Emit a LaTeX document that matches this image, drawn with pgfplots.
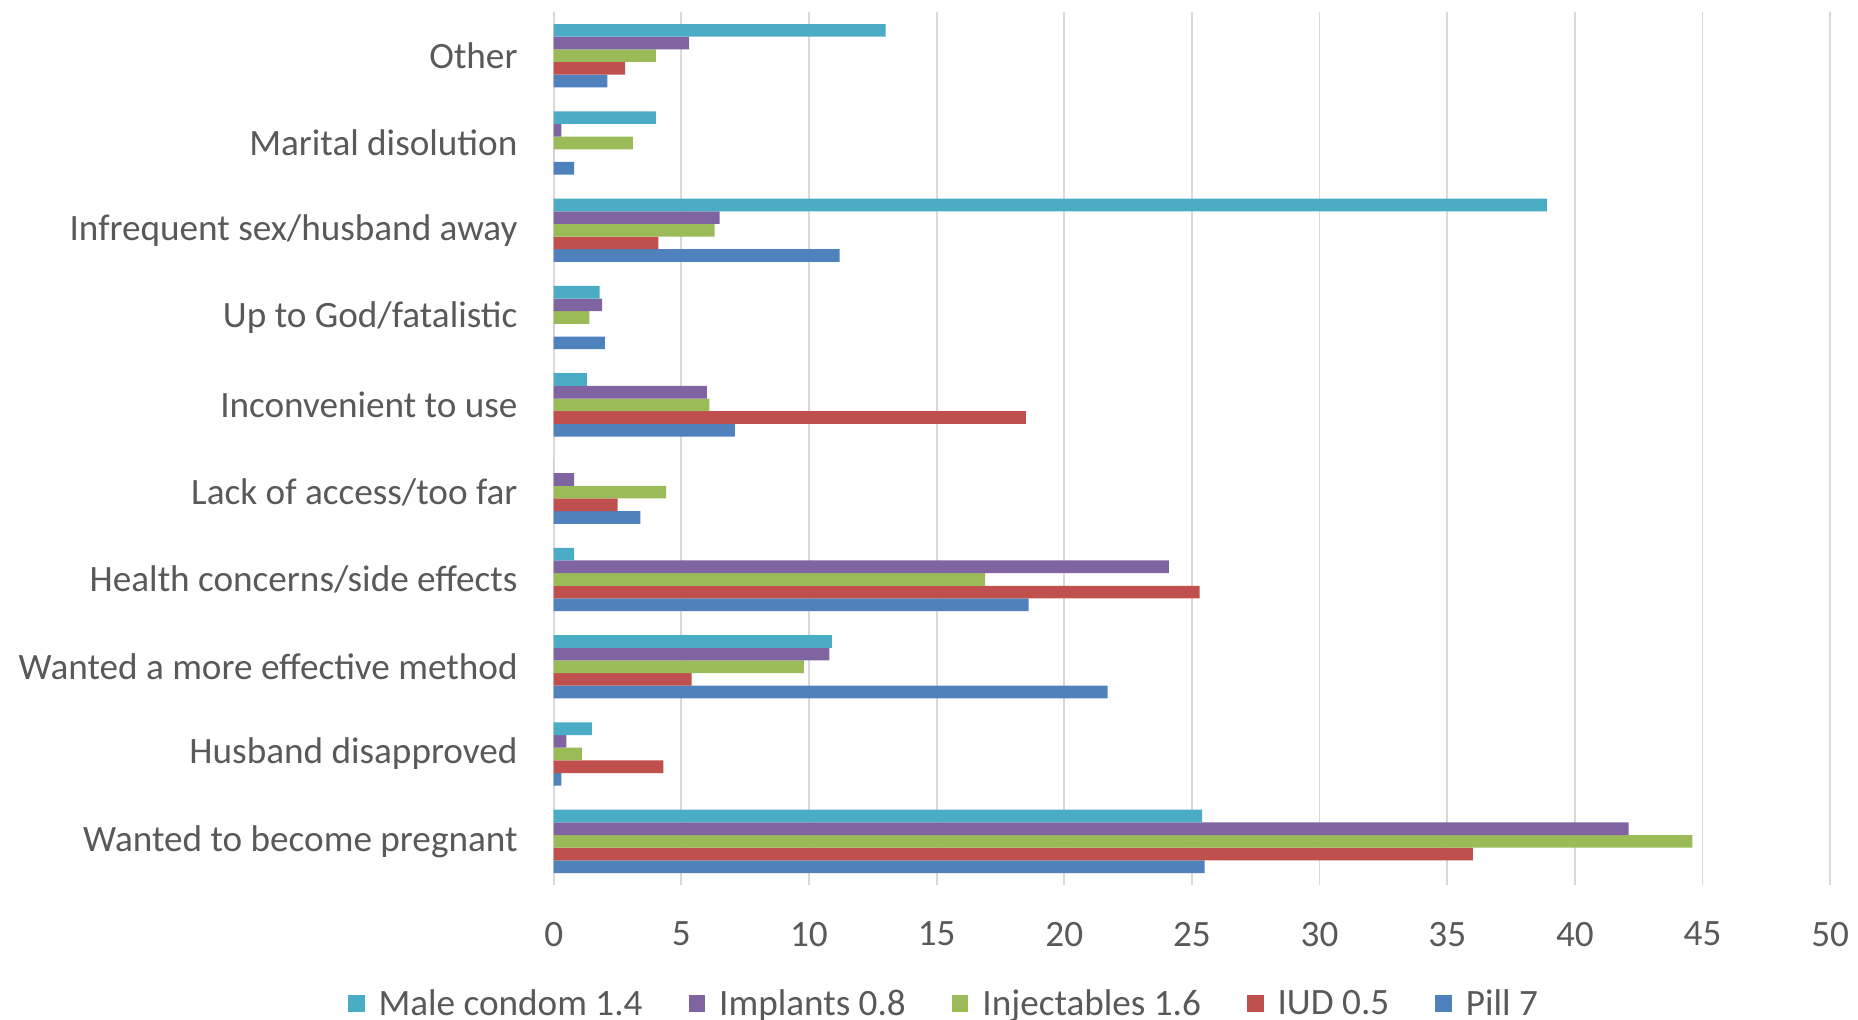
\documentclass[border=0pt]{standalone}
\usepackage{fontspec}
\setmainfont{Carlito}
\usepackage{pgfplots}
\pgfplotsset{compat=1.18}
\definecolor{cMC}{HTML}{4BACC6}
\definecolor{cImp}{HTML}{8064A2}
\definecolor{cInj}{HTML}{9BBB59}
\definecolor{cIUD}{HTML}{C0504D}
\definecolor{cPill}{HTML}{4F81BD}
\definecolor{gridc}{HTML}{D9D9D9}
\definecolor{textc}{HTML}{595959}
\begin{document}
\begin{tikzpicture}
\begin{axis}[
  at={(0pt,0pt)}, anchor=south west,
  scale only axis, width=638.25pt, height=436.5pt,
  xbar=0pt, bar width=6.33pt,
  xmin=0, xmax=50, ymin=-0.5, ymax=9.5,
  xtick={0,5,...,50}, ytick={0,...,9},
  yticklabels={Wanted to become pregnant, Husband disapproved, Wanted a more effective method, Health concerns/side effects, Lack of access/too far, Inconvenient to use, Up to God/fatalistic, Infrequent sex/husband away, Marital disolution, Other},
  xmajorgrids, major grid style={draw=gridc, line width=0.9pt},
  axis line style={draw=none},
  major tick length=0pt,
  /pgf/number format/assume math mode=true,
  tick label style={font=\fontsize{18.6}{22}\selectfont, text=textc},
  yticklabel style={inner sep=0pt, xshift=-17.9pt},
  xticklabel style={inner sep=0pt, yshift=-18.3pt},
  legend image code/.code={\fill[#1] (0pt,-4.15pt) rectangle (8.3pt,4.15pt);},
  legend style={draw=none, fill=none, at={(0.3065,-0.136)}, anchor=center,
    legend columns=5, font=\fontsize{18.6}{22}\selectfont, text=textc,
    /tikz/every odd column/.append style={column sep=5pt},
    /tikz/every even column/.append style={column sep=21pt}},
  reverse legend,
]
\addplot[fill=cPill, draw=none] coordinates {(25.5,0) (0.3,1) (21.7,2) (18.6,3) (3.4,4) (7.1,5) (2.0,6) (11.2,7) (0.8,8) (2.1,9)};
\addlegendentry{Pill 7}
\addplot[fill=cIUD, draw=none] coordinates {(36.0,0) (4.3,1) (5.4,2) (25.3,3) (2.5,4) (18.5,5) (0,6) (4.1,7) (0,8) (2.8,9)};
\addlegendentry{IUD 0.5}
\addplot[fill=cInj, draw=none] coordinates {(44.6,0) (1.1,1) (9.8,2) (16.9,3) (4.4,4) (6.1,5) (1.4,6) (6.3,7) (3.1,8) (4.0,9)};
\addlegendentry{Injectables 1.6}
\addplot[fill=cImp, draw=none] coordinates {(42.1,0) (0.5,1) (10.8,2) (24.1,3) (0.8,4) (6.0,5) (1.9,6) (6.5,7) (0.3,8) (5.3,9)};
\addlegendentry{Implants 0.8}
\addplot[fill=cMC, draw=none] coordinates {(25.4,0) (1.5,1) (10.9,2) (0.8,3) (0,4) (1.3,5) (1.8,6) (38.9,7) (4.0,8) (13.0,9)};
\addlegendentry{Male condom 1.4}
\end{axis}
\pgfresetboundingbox
\useasboundingbox (-276.85pt,-67pt) rectangle (652.15pt,442.5pt);
\end{tikzpicture}
\end{document}
